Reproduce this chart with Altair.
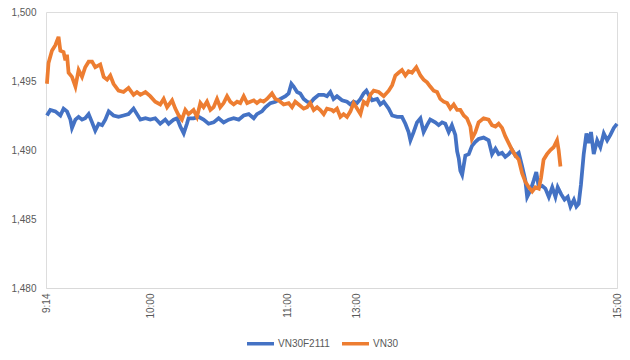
import altair as alt
import pandas as pd

# trading-minute index since 9:14 (lunch break collapsed) and prices
t_blue = [0.4, 1.9, 4.1, 6.3, 7.7, 9.2, 10.7, 11.4, 12.9, 14.3, 15.8, 17.2, 18.7, 20.2, 21.6, 23.1,
          24.6, 26.0, 27.5, 29.6, 31.8, 34.0, 36.2, 38.4, 39.9, 41.4, 43.6, 45.7, 47.9, 50.1, 52.3,
          53.8, 56.0, 57.5, 58.9, 60.4, 61.8, 62.5, 64.7, 66.9, 69.1, 71.3, 73.5, 75.7, 77.9, 80.1,
          82.3, 84.5, 86.7, 88.9, 91.1, 92.5, 94.7, 96.2, 98.4, 100.6, 102.8, 105.0, 106.4, 107.6,
          108.6, 110.1, 111.5, 113.0, 114.5, 115.9, 117.4, 119.6, 121.8, 123.2, 124.7, 126.1, 127.6,
          129.8, 132.0, 133.5, 134.9, 136.4, 137.9, 139.3, 140.5, 141.5, 143.0, 145.2, 146.6, 148.1,
          150.3, 151.8, 154.0, 156.1, 157.6, 159.0, 159.8, 161.2, 162.7, 164.2, 165.6, 167.1, 168.5,
          170.7, 172.2, 173.7, 175.1, 176.6, 178.0, 179.5, 180.3, 181.0, 181.7, 182.5, 183.9, 185.4,
          186.8, 188.3, 189.7, 191.9, 194.1, 195.6, 197.1, 198.5, 200.0, 201.4, 202.9, 204.4, 205.8,
          207.3, 208.8, 210.2, 211.0, 212.5, 213.9, 215.0, 216.1, 217.6, 219.0, 220.5, 222.0, 223.4,
          224.4, 225.9, 227.4, 228.8, 230.0, 231.5, 232.6, 233.6, 234.6, 235.8, 237.0, 238.0, 239.0,
          240.2, 241.7, 243.1, 244.6, 246.1, 247.5, 249.0, 250.4]
v_blue = [1492.5, 1492.9, 1492.8, 1492.5, 1493.0, 1492.8, 1492.2, 1491.6, 1492.2, 1492.4, 1492.2,
          1492.3, 1492.6, 1492.0, 1491.4, 1491.9, 1491.8, 1492.2, 1492.8, 1492.5, 1492.4, 1492.5,
          1492.6, 1493.0, 1492.6, 1492.2, 1492.3, 1492.2, 1492.3, 1491.9, 1492.2, 1491.9, 1492.2,
          1492.3, 1491.7, 1491.2, 1491.9, 1492.3, 1492.3, 1492.4, 1492.2, 1491.9, 1492.0, 1492.3,
          1492.0, 1492.2, 1492.3, 1492.2, 1492.5, 1492.6, 1492.3, 1492.6, 1492.8, 1493.1, 1493.4,
          1493.5, 1493.7, 1493.9, 1494.1, 1494.8, 1494.6, 1494.2, 1494.1, 1493.7, 1493.5, 1493.4,
          1493.7, 1494.0, 1494.0, 1493.9, 1494.2, 1493.7, 1493.9, 1493.6, 1493.5, 1493.3, 1493.5,
          1493.4, 1493.7, 1494.1, 1494.3, 1494.0, 1493.6, 1493.7, 1493.3, 1493.5, 1493.0, 1492.5,
          1492.4, 1492.4, 1491.9, 1491.3, 1490.7, 1491.3, 1492.0, 1492.3, 1491.3, 1491.8, 1492.2,
          1492.0, 1491.8, 1492.0, 1491.9, 1491.3, 1491.8, 1491.1, 1489.9, 1489.4, 1488.5, 1488.2,
          1489.6, 1489.7, 1490.3, 1490.6, 1490.8, 1490.9, 1490.7, 1489.7, 1490.1, 1489.7, 1489.8,
          1489.5, 1489.7, 1490.0, 1489.6, 1489.8, 1488.8, 1487.8, 1486.6, 1487.1, 1487.8, 1488.4,
          1487.3, 1487.4, 1487.2, 1486.6, 1487.3, 1486.6, 1487.3, 1486.8, 1486.4, 1486.6, 1485.9,
          1486.4, 1485.9, 1486.1, 1487.5, 1489.7, 1491.2, 1490.5, 1491.3, 1489.7, 1490.7, 1490.2,
          1491.2, 1490.7, 1491.1, 1491.6, 1491.9]

t_orange = [0.4, 1.1, 2.6, 4.1, 5.5, 6.3, 7.7, 8.5, 9.2, 9.9, 11.4, 12.9, 14.3, 15.8, 17.2, 18.7,
            20.2, 21.6, 23.8, 25.3, 26.8, 28.2, 29.6, 31.8, 34.0, 36.2, 38.4, 39.9, 41.4, 43.6,
            45.7, 47.9, 50.1, 51.6, 53.1, 55.3, 56.7, 58.2, 59.6, 61.1, 62.5, 64.7, 66.2, 67.7,
            69.1, 70.6, 72.1, 73.5, 75.0, 76.4, 77.9, 79.4, 80.8, 82.3, 83.8, 85.2, 86.7, 88.2,
            89.6, 91.1, 92.5, 94.0, 95.4, 96.9, 99.1, 100.6, 102.0, 104.2, 106.4, 107.9, 109.3,
            110.8, 113.0, 114.5, 115.9, 117.4, 118.9, 120.3, 121.8, 123.2, 125.4, 126.1, 127.6,
            129.1, 130.5, 132.0, 133.5, 134.9, 136.4, 137.9, 139.3, 140.8, 142.2, 143.7, 145.9,
            148.1, 150.3, 151.8, 153.2, 154.6, 156.1, 157.6, 159.0, 160.5, 162.4, 164.2, 165.6,
            167.1, 168.5, 170.0, 171.5, 172.9, 174.4, 175.9, 177.3, 178.8, 180.3, 181.7, 183.2,
            184.6, 186.1, 186.8, 188.3, 189.7, 191.9, 194.1, 195.6, 197.1, 198.5, 200.0, 201.4,
            202.9, 204.4, 205.8, 207.3, 208.8, 210.2, 211.7, 213.2, 214.6, 216.1, 217.1, 218.2,
            219.7, 221.2, 222.6, 224.1, 224.8, 225.6]
v_orange = [1494.8, 1496.3, 1497.2, 1497.6, 1498.2, 1497.2, 1497.1, 1496.5, 1496.9, 1495.6, 1495.3,
            1494.6, 1495.8, 1495.3, 1496.0, 1496.4, 1496.4, 1496.0, 1496.2, 1495.3, 1495.1, 1495.4,
            1494.8, 1494.3, 1494.2, 1494.5, 1494.0, 1494.2, 1494.0, 1494.2, 1493.9, 1493.5, 1493.3,
            1493.7, 1493.1, 1493.6, 1493.0, 1492.5, 1492.2, 1492.9, 1492.6, 1492.9, 1492.4, 1493.4,
            1493.1, 1493.5, 1492.9, 1493.1, 1493.7, 1493.1, 1493.4, 1493.9, 1493.5, 1493.3, 1493.5,
            1493.4, 1493.9, 1493.4, 1493.5, 1493.6, 1493.4, 1493.6, 1493.5, 1493.7, 1494.1, 1493.7,
            1493.6, 1493.3, 1493.4, 1493.1, 1493.5, 1493.3, 1493.0, 1493.1, 1493.4, 1492.9, 1493.1,
            1492.9, 1492.6, 1493.0, 1492.9, 1492.8, 1493.0, 1492.4, 1492.6, 1492.4, 1492.8, 1493.4,
            1493.0, 1492.6, 1493.5, 1493.3, 1494.0, 1494.3, 1494.2, 1493.9, 1494.3, 1494.7, 1495.4,
            1495.6, 1495.8, 1495.4, 1495.7, 1495.6, 1496.0, 1495.4, 1495.1, 1494.9, 1494.6, 1494.3,
            1494.2, 1493.7, 1493.5, 1493.4, 1493.0, 1493.3, 1492.9, 1492.9, 1492.5, 1492.3, 1491.7,
            1490.8, 1491.3, 1492.0, 1492.3, 1492.2, 1491.8, 1491.7, 1491.9, 1491.6, 1491.0, 1490.5,
            1490.0, 1489.6, 1489.3, 1488.3, 1487.7, 1487.3, 1487.0, 1487.3, 1487.2, 1488.0, 1489.3,
            1489.7, 1490.0, 1490.2, 1490.7, 1490.0, 1488.8]

series_names = ["VN30F2111", "VN30"]
series_colors = ["#4472C4", "#ED7D31"]
tick_pos = [0, 46, 106, 136, 250.4]
tick_labels = ["9:14", "10:00", "11:00", "13:00", "15:00"]
y_ticks = [1480, 1485, 1490, 1495, 1500]

df = pd.concat([
    pd.DataFrame({"t": t_blue, "v": v_blue, "s": series_names[0]}),
    pd.DataFrame({"t": t_orange, "v": v_orange, "s": series_names[1]}),
])

label_expr = " : ".join(
    f"datum.value == {p} ? '{l}'" for p, l in zip(tick_pos, tick_labels)
) + " : ''"

FONT = "Liberation Sans"
GREY = "#595959"

x_enc = alt.X("t:Q", scale=alt.Scale(domain=[0, 250.4], nice=False, zero=False),
              axis=alt.Axis(values=tick_pos, labelExpr=label_expr, labelAngle=-90, title=None,
                            grid=False, ticks=False, tickSize=0, labelPadding=5,
                            domainColor="#D9D9D9", domainWidth=1, labelColor=GREY,
                            labelFont=FONT, labelFontSize=10, labelOverlap=False))
y_enc = alt.Y("v:Q", scale=alt.Scale(domain=[1480, 1500], nice=False, zero=False),
              axis=alt.Axis(values=y_ticks, format=",", title=None, grid=False, ticks=False,
                            tickSize=0, domain=False, labelPadding=10, labelColor=GREY,
                            labelFont=FONT, labelFontSize=10))
color_enc = alt.Color("s:N", scale=alt.Scale(domain=series_names, range=series_colors),
                      legend=alt.Legend(title=None, orient="none", legendX=199, legendY=316,
                                        direction="horizontal", symbolType="stroke",
                                        symbolSize=730, symbolStrokeWidth=3.5,
                                        labelFont=FONT, labelFontSize=10, labelColor=GREY,
                                        labelOffset=2, columnPadding=4))

base = alt.Chart(df)
blue = base.transform_filter(alt.datum.s == series_names[0]).mark_line(strokeWidth=3.75).encode(
    x=x_enc, y=y_enc, color=color_enc)
orange = base.transform_filter(alt.datum.s == series_names[1]).mark_line(strokeWidth=3.75).encode(
    x=x_enc, y=y_enc, color=color_enc)

chart = alt.layer(blue, orange).properties(
    width=571, height=276,
    autosize=alt.AutoSizeParams(type="none"),
    padding={"left": 38, "top": 4, "right": 5, "bottom": 62},
).configure_view(stroke=None).configure(background="white")

chart.save("out.html", embed_options={"renderer": "svg", "actions": False})
